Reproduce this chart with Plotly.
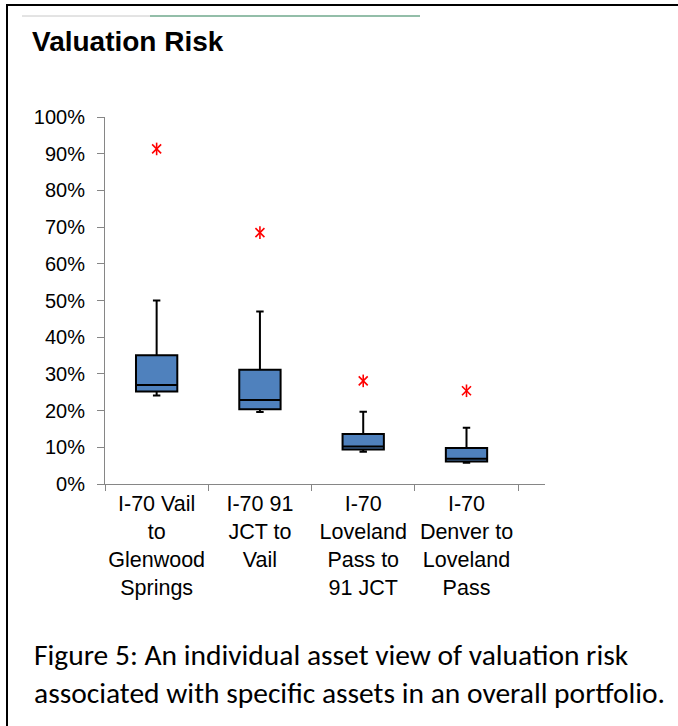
import plotly.graph_objects as go

categories = ["I-70 Vail<br>to<br>Glenwood<br>Springs", "I-70 91<br>JCT to<br>Vail",
              "I-70<br>Loveland<br>Pass to<br>91 JCT", "I-70<br>Denver to<br>Loveland<br>Pass"]
upper = [0.50, 0.47, 0.197, 0.153]
q3 = [0.351, 0.311, 0.136, 0.098]
median = [0.270, 0.229, 0.102, 0.069]
q1 = [0.252, 0.204, 0.094, 0.061]
lower = [0.241, 0.196, 0.088, 0.058]
outliers = [0.913, 0.685, 0.281, 0.254]
ytick_vals = [i / 10 for i in range(11)]
ytick_text = [f"{i*10}%" for i in range(11)]

W, H = 678, 726
L, R, T, B = 105, 545, 117, 484

def px(x):
    return (x - L) / (R - L)

def py(y):
    return (B - y) / (B - T)

fig = go.Figure()
fig.add_trace(go.Box(
    x=categories, q1=q1, median=median, q3=q3, lowerfence=lower, upperfence=upper,
    fillcolor="#4F81BD", line=dict(color="black", width=2),
    width=0.4, whiskerwidth=0.18, boxpoints=False, showlegend=False,
))
for sym in ["x-thin-open", "line-ns-open"]:
    fig.add_trace(go.Scatter(
        x=categories, y=outliers, mode="markers", showlegend=False,
        marker=dict(symbol=sym, size=9, color="red",
                    line=dict(color="red", width=1.6)),
    ))

fig.update_layout(
    width=W, height=H, autosize=False,
    margin=dict(l=L, r=W - R, t=T, b=H - B, pad=0),
    paper_bgcolor="white", plot_bgcolor="white",
    font=dict(family="Liberation Sans, Arial", size=20, color="black"),
    title=dict(text="<b>Valuation Risk</b>", x=32 / W, xanchor="left", xref="container",
               y=1 - 41 / H, yanchor="middle", yref="container",
               font=dict(family="Liberation Sans, Arial", size=28, color="black")),
    xaxis=dict(type="category", range=[-0.5, 3.76], tickson="boundaries", ticks="outside",
               ticklen=6, tickcolor="#868686", showline=True, linecolor="#868686", linewidth=1,
               showgrid=False, zeroline=False, tickfont=dict(size=21.5), tickangle=0),
    yaxis=dict(range=[0, 1], tickvals=ytick_vals, ticktext=ytick_text, ticks="outside",
               ticklen=7, tickcolor="#868686", showline=True, linecolor="#868686", linewidth=1,
               showgrid=False, zeroline=False, tickfont=dict(size=20), ticklabelstandoff=8),
    shapes=[
        dict(type="line", xref="paper", yref="paper", x0=px(22), x1=px(150), y0=py(16), y1=py(16),
             line=dict(color="#C8C8C8", width=1)),
        dict(type="line", xref="paper", yref="paper", x0=px(150), x1=px(420), y0=py(16), y1=py(16),
             line=dict(color="#6FA88C", width=1.5)),
        dict(type="line", xref="paper", yref="paper", x0=px(6), x1=px(W + 2), y0=py(5), y1=py(5),
             line=dict(color="black", width=2)),
        dict(type="line", xref="paper", yref="paper", x0=px(7), x1=px(7), y0=py(5), y1=py(H + 2),
             line=dict(color="black", width=2)),
    ],
    annotations=[
        dict(text="Figure 5: An individual asset view of valuation risk<br>associated with specific assets in an overall portfolio.",
             xref="paper", yref="paper", x=px(32), y=py(674), xanchor="left", yanchor="middle",
             align="left", showarrow=False,
             font=dict(family="Carlito, Calibri, Lato", size=29.5, color="black")),
    ],
)
fig.write_html("out.html", config={"displayModeBar": False},
               post_script="document.body.style.margin='0';")
